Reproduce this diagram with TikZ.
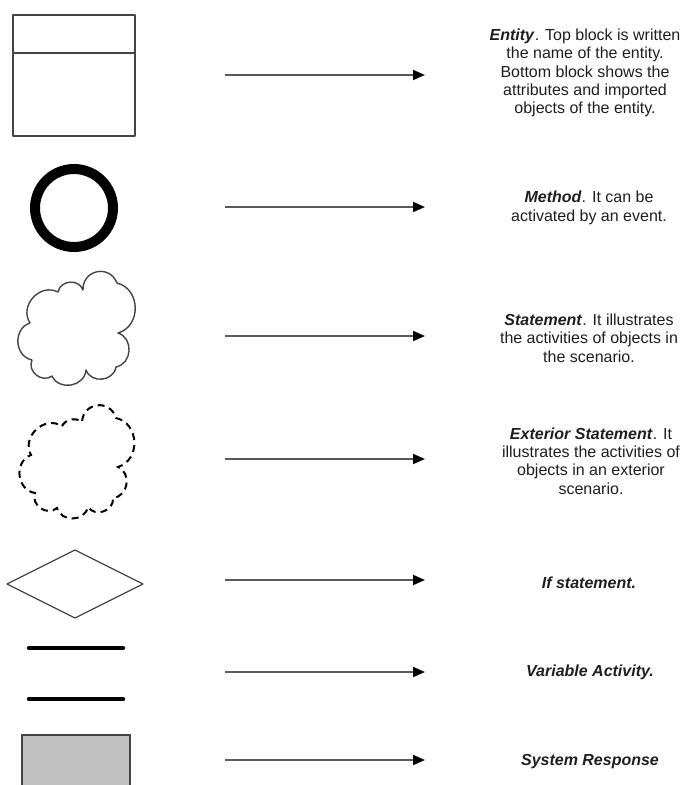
\documentclass[tikz,border=0pt]{standalone}
\usepackage{fontspec}
\setmainfont{Liberation Sans}
\usetikzlibrary{arrows.meta}
\definecolor{edge}{HTML}{444444}
\definecolor{shaft}{HTML}{5A5A5A}
\definecolor{respfill}{HTML}{C0C0C0}
\definecolor{ink}{HTML}{1E1E1E}
\begin{document}
\begin{tikzpicture}[x=1pt,y=-1pt,
  outline/.style={draw=edge,line width=1.5pt,line join=round},
  legend/.style={-{Triangle[length=12pt,width=10pt,color=black,fill=black]},draw=shaft,line width=1.8pt},
  caption/.style={align=center,text=ink,font=\fontsize{16}{18.4}\selectfont,inner sep=0pt},
  bump/.style={bend left=75,looseness=1.25},
  bar/.style={draw=black,line width=4.5pt,line cap=round}]
\useasboundingbox (0,0) rectangle (688,785);

% entity: name block above attribute block
\node[outline,minimum width=122pt,minimum height=121pt,inner sep=0pt] (entity) at (74,75.5) {};
\draw[outline] (13,53) coordinate (divl) -- (135,53) coordinate (divr);

% method: heavy ring
\node[draw=black,line width=10pt,circle,minimum size=78pt,inner sep=0pt] (method) at (74,208) {};

% statement: cloud outline
\coordinate (sa) at (58,292);
\coordinate (sb) at (83,290);
\coordinate (sc) at (117,283);
\coordinate (sd) at (118,333);
\coordinate (se) at (116,367);
\coordinate (sf) at (86,370);
\coordinate (sg) at (52,376);
\coordinate (sh) at (32,360);
\coordinate (si) at (30,323);
\draw[draw=edge,line width=1.4pt,line join=round]
  (sa) to[bump] (sb) to[bend left=80,looseness=1.5] (sc) to[bump] (sd)
  to[bump] (se) to[bump] (sf) to[bump] (sg) to[bump] (sh)
  to[bump] (si) to[bump] (sa) -- cycle;

% exterior statement: dashed cloud outline
\coordinate (xa) at (62,426);
\coordinate (xb) at (82,422);
\coordinate (xc) at (116,418);
\coordinate (xd) at (118,467);
\coordinate (xe) at (113,498);
\coordinate (xf) at (88,507);
\coordinate (xg) at (57,508);
\coordinate (xh) at (35,493);
\coordinate (xi) at (31,455);
\draw[draw=black,line width=2pt,dash pattern=on 7pt off 5pt]
  (xa) to[bend left=50] (xb) to[bend left=80,looseness=1.5] (xc) to[bump] (xd)
  to[bump] (xe) to[bump] (xf) to[bump] (xg) to[bump] (xh)
  to[bump] (xi) to[bump] (xa);

% if statement: diamond
\coordinate (dl) at (7,584);
\coordinate (dt) at (75,550);
\coordinate (dr) at (143,584);
\coordinate (db) at (75,618);
\draw[draw=edge,line width=1.2pt,line join=round] (dl) -- (dt) -- (dr) -- (db) -- cycle;

% variable activity: two bars
\coordinate (b1l) at (29,648); \coordinate (b1r) at (123,648);
\coordinate (b2l) at (29,699); \coordinate (b2r) at (123,699);
\draw[bar] (b1l) -- (b1r);
\draw[bar] (b2l) -- (b2r);

% system response: grey block
\node[draw=edge,fill=respfill,line width=1.5pt,minimum width=108pt,minimum height=70pt,inner sep=0pt] (resp) at (76,770) {};

% legend arrows
\foreach \n/\y in {1/75,2/207,3/336,4/459,5/580,6/672,7/760}{
  \coordinate (a\n) at (225,\y);
  \coordinate (b\n) at (425,\y);
  \draw[legend] (a\n) -- (b\n);
}

% descriptions
\node[caption] (t1) at (585,73) {\textbf{\textit{Entity}}. Top block is written\\the name of the entity.\\Bottom block shows the\\attributes and imported\\objects of the entity.};
\node[caption] (t2) at (589,208) {\textbf{\textit{Method}}. It can be\\activated by an event.};
\node[caption] (t3) at (589,338) {\textbf{\textit{Statement}}. It illustrates\\the activities of objects in\\the scenario.};
\node[caption] (t4) at (591,461) {\textbf{\textit{Exterior Statement}}. It\\illustrates the activities of\\objects in an exterior\\scenario.};
\node[caption] (t5) at (589,583) {\textbf{\textit{If statement.}}};
\node[caption] (t6) at (590,672) {\textbf{\textit{Variable Activity.}}};
\node[caption] (t7) at (590,762) {\textbf{\textit{System Response}}};
\end{tikzpicture}
\end{document}
